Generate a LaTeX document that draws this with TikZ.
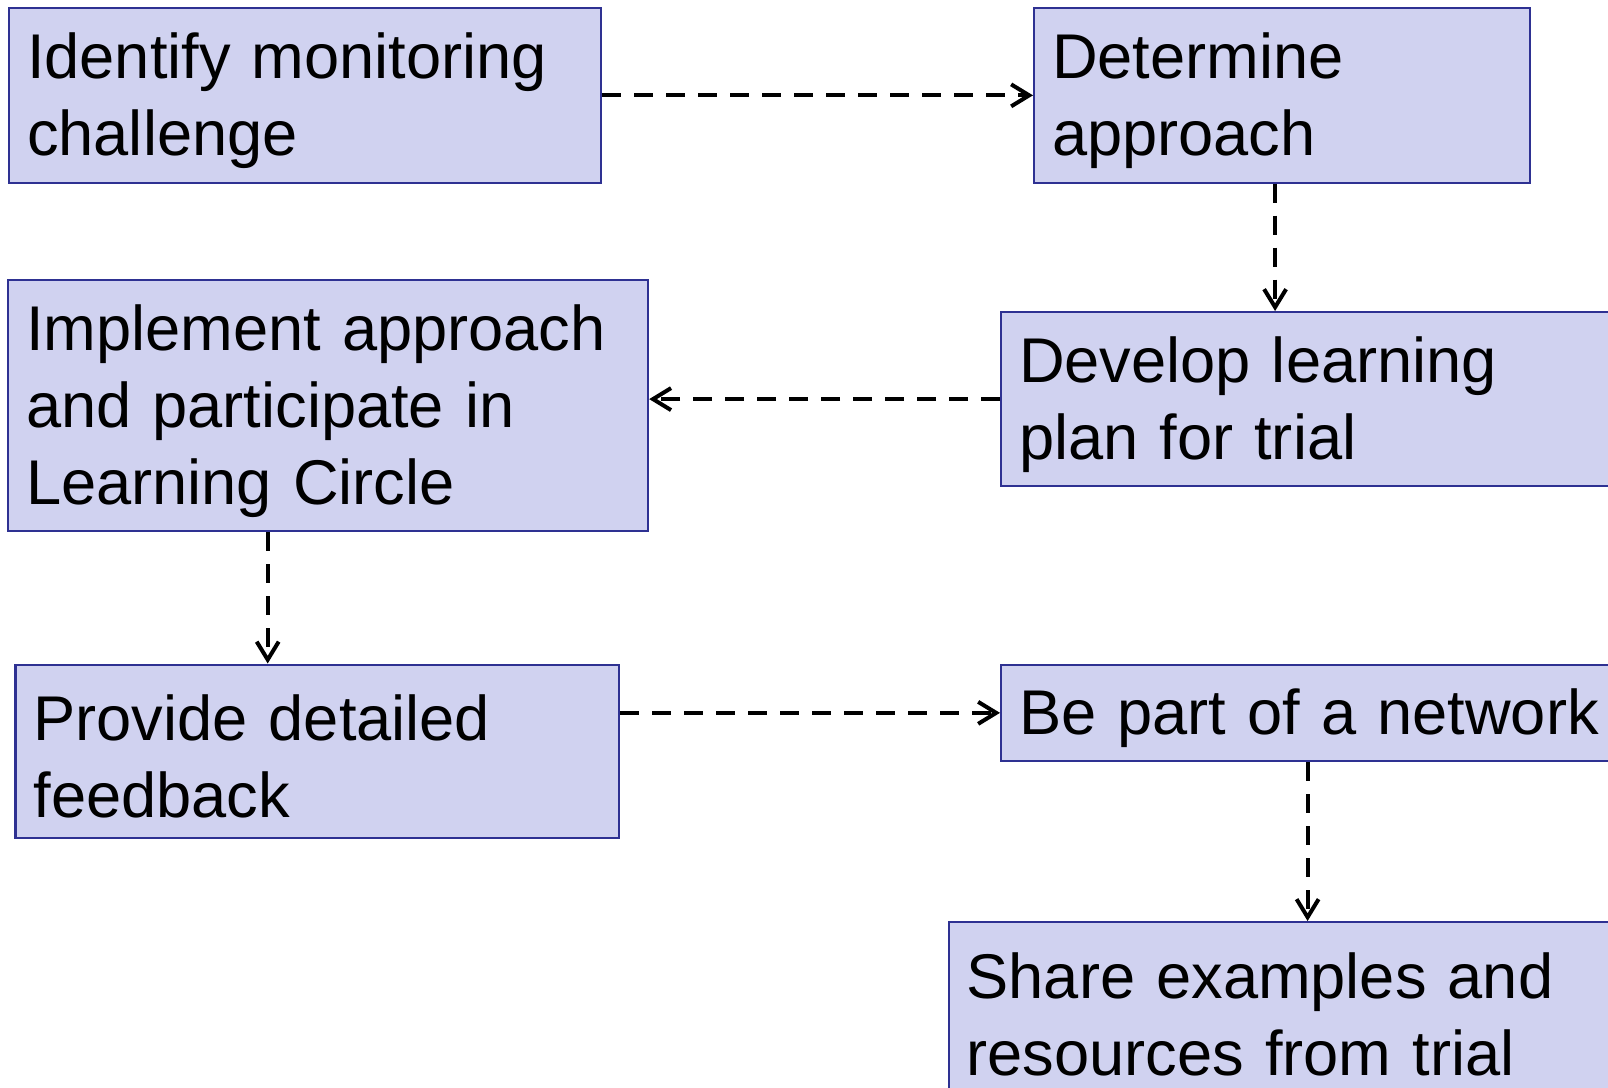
\documentclass[tikz,border=0pt]{standalone}
\usepackage{fontspec}
\setmainfont[WordSpace=0.8]{Liberation Sans}
\definecolor{boxfill}{RGB}{208, 210, 240}
\definecolor{boxline}{RGB}{46, 49, 146}
\usepackage{tikz}
\usetikzlibrary{arrows.meta, positioning, calc}

\begin{document}
\begin{tikzpicture}[x=0.5pt, y=-0.5pt,
    stepbox/.style={draw=boxline, fill=boxfill, line width=1.1pt, anchor=north west, align=left,
      inner xsep=9pt, inner ysep=0pt, font=\fontsize{31.6}{38.5}\selectfont,
      execute at begin node={\rule{0pt}{28pt}}},
    flow/.style={line width=2pt, dash pattern=on 9.5pt off 6.5pt,
      -{Straight Barb[length=9pt, width=11pt, line width=2pt]}}]
  \useasboundingbox (0,0) rectangle (1608,1088);
  \clip (0,0) rectangle (1608,1088);

  % First row
  \node[stepbox, minimum width=296pt, minimum height=87.25pt, text width=278pt] (ident) at (8,7)
    {Identify monitoring\\challenge};
  \node[stepbox, minimum width=248pt, minimum height=87.25pt, text width=230pt] (determ) at (1033,7)
    {Determine\\approach};

  % Second row
  \node[stepbox, minimum width=320pt, minimum height=125.5pt, text width=302pt] (implement) at (7,279)
    {Implement approach\\and participate in\\Learning Circle};
  \node[stepbox, minimum width=320pt, minimum height=87pt, text width=302pt] (develop) at (1000,311)
    {Develop learning\\plan for trial};

  % Third row
  \node[stepbox, minimum width=301.8pt, minimum height=86.75pt, text width=283.8pt] (provide) at (14.4,663.5)
    {Provide detailed\\feedback};
  \node[stepbox, minimum width=320pt, minimum height=48.25pt, text width=302pt] (network) at (1000,663.5)
    {Be part of a network};

  % Last step
  \node[stepbox, minimum width=360pt, minimum height=87.5pt, text width=342pt] (share) at (947.5,921)
    {Share examples and\\resources from trial};

  % Connectors
  \draw[flow] (ident.east) -- (determ.west);
  \draw[flow] ([xshift=-3.5pt]determ.south) -- ([xshift=-3.5pt]determ.south |- develop.north);
  \draw[flow] (develop.west) -- (develop.west -| implement.east);
  \draw[flow] ([xshift=-30.2pt]implement.south) -- ([xshift=-30.2pt]implement.south |- provide.north);
  \draw[flow] (provide.east |- network.west) -- (network.west);
  \draw[flow] ([xshift=-6.75pt]network.south) -- ([xshift=-6.75pt]network.south |- share.north);
\end{tikzpicture}
\end{document}
